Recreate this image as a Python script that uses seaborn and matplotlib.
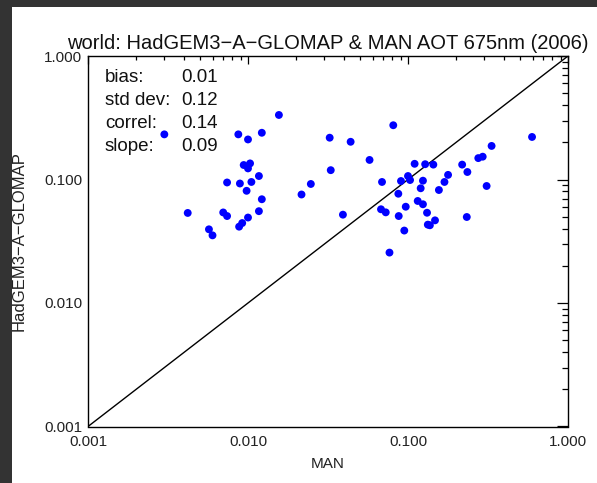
import pandas as pd
import matplotlib
matplotlib.use("Agg")
import matplotlib.pyplot as plt
import seaborn as sns
from matplotlib.patches import Rectangle
from matplotlib.ticker import LogLocator, NullFormatter

# AOT 675nm values
man = [0.0030, 0.0042, 0.0057, 0.0060, 0.0070, 0.0074, 0.0074, 0.0087, 0.0100, 0.0094,
       0.0103, 0.0100, 0.0089, 0.0098, 0.0105, 0.0117, 0.0122, 0.0117, 0.0100, 0.0092,
       0.0088, 0.0122, 0.0156, 0.0216, 0.0247, 0.0324, 0.0438, 0.0575, 0.0329, 0.0392,
       0.0688, 0.0678, 0.0726, 0.0766, 0.0809, 0.110, 0.128, 0.144, 0.218, 0.235,
       0.178, 0.169, 0.100, 0.103, 0.0904, 0.124, 0.120, 0.156, 0.087, 0.115,
       0.124, 0.0968, 0.1315, 0.233, 0.0875, 0.1475, 0.133, 0.137, 0.0948, 0.596,
       0.333, 0.275, 0.293, 0.310]
model = [0.232, 0.0536, 0.0395, 0.0353, 0.0541, 0.0506, 0.0946, 0.232, 0.211, 0.131,
         0.135, 0.123, 0.0928, 0.081, 0.0955, 0.1067, 0.0692, 0.0554, 0.0492, 0.0444,
         0.0415, 0.239, 0.333, 0.0756, 0.092, 0.218, 0.202, 0.144, 0.119, 0.0519,
         0.0955, 0.0574, 0.0542, 0.0256, 0.275, 0.134, 0.133, 0.132, 0.132, 0.115,
         0.109, 0.0955, 0.1067, 0.099, 0.0972, 0.0978, 0.0849, 0.0822, 0.0767, 0.067,
         0.063, 0.0602, 0.0538, 0.0497, 0.0506, 0.0467, 0.0431, 0.0426, 0.0386, 0.221,
         0.187, 0.149, 0.153, 0.0886]

stat_names = ["bias:", "std dev:", "correl:", "slope:"]
stat_values = ["0.01", "0.12", "0.14", "0.09"]

ticks = [0.001, 0.01, 0.1, 1.0]
tick_labels = ["0.001", "0.010", "0.100", "1.000"]

df = pd.DataFrame({"MAN": man, "model": model})

sns.set_style("white")
plt.rcParams["font.family"] = ["Liberation Sans", "DejaVu Sans"]

fig = plt.figure(figsize=(5.97, 4.83), dpi=100, facecolor="#333333")
# white page with dark frame on left and top
fig.patches.append(Rectangle((12 / 597, 0), 1, 476 / 483, transform=fig.transFigure,
                             facecolor="white", edgecolor="none", zorder=-10))
ax = fig.add_axes([88 / 597, 56.5 / 483, 480 / 597, 370.5 / 483])
ax.set_zorder(5)
ax.set_facecolor("white")

ax.set_xscale("log")
ax.set_yscale("log")
ax.plot([ticks[0], ticks[-1]], [ticks[0], ticks[-1]], color="black", lw=1)
sns.scatterplot(data=df, x="MAN", y="model", color="#0000ff", s=32,
                edgecolor="none", legend=False, ax=ax, zorder=3)

ax.set_xlim(ticks[0], ticks[-1])
ax.set_ylim(ticks[0], ticks[-1])
ax.set_xticks(ticks, tick_labels)
ax.set_yticks(ticks, tick_labels)
for axis in (ax.xaxis, ax.yaxis):
    axis.set_minor_locator(LogLocator(base=10, subs=range(2, 10)))
    axis.set_minor_formatter(NullFormatter())

ax.tick_params(which="both", direction="in", top=True, right=True,
               color="black", width=0.9, labelsize=11, labelcolor="#222222")
ax.tick_params(axis="x", which="major", length=6, pad=6)
ax.tick_params(axis="x", which="minor", length=3)
ax.tick_params(axis="y", which="major", length=8, pad=4)
ax.tick_params(axis="y", which="minor", length=4.5)
for s in ax.spines.values():
    s.set_color("black")
    s.set_linewidth(1)

ax.set_title("world: HadGEM3\u2212A\u2212GLOMAP & MAN AOT 675nm (2006)", fontsize=14.5,
             pad=5, color="#111111")
ax.set_xlabel("MAN", fontsize=11, labelpad=6, color="#222222")
ax.set_ylabel("HadGEM3\u2212A\u2212GLOMAP", fontsize=12, labelpad=13, color="#222222")

rows_y = [0.943, 0.881, 0.819, 0.757]
for name, val, yy in zip(stat_names, stat_values, rows_y):
    ax.text(0.035, yy, name, transform=ax.transAxes, fontsize=13.5, va="center", color="#111111")
    ax.text(0.194, yy, val, transform=ax.transAxes, fontsize=13.5, va="center", color="#111111")

fig.savefig("out.png", dpi=100, facecolor=fig.get_facecolor())
